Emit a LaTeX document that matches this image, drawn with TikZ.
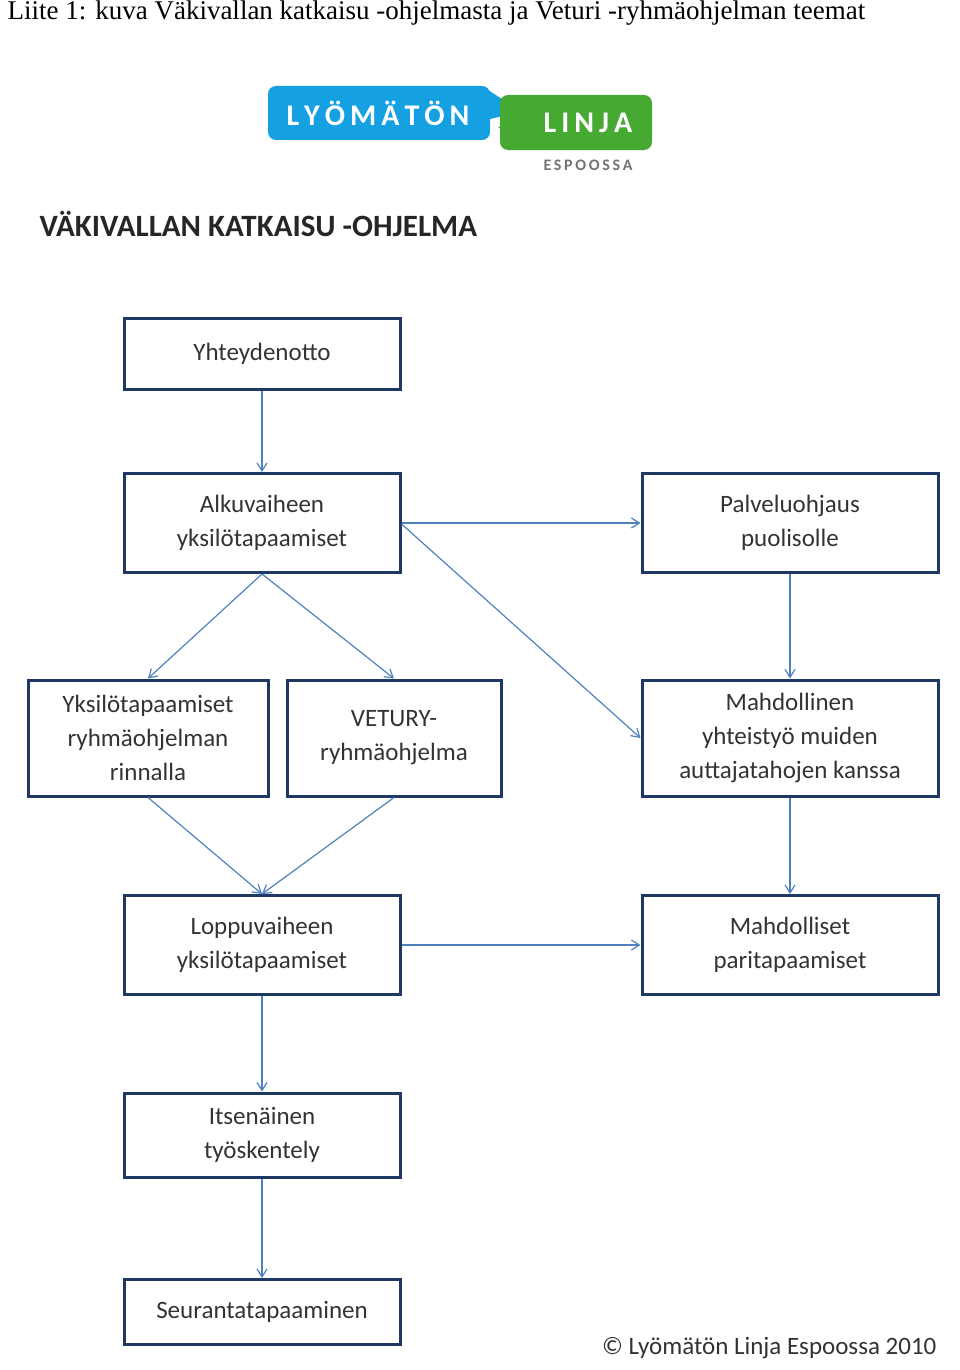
\documentclass[tikz,border=0pt]{standalone}
\usepackage{fontspec}
\setmainfont{Carlito}
\newfontfamily\timesfont{Liberation Serif}
\usetikzlibrary{positioning,arrows.meta}
\definecolor{boxblue}{RGB}{31,56,100}
\definecolor{arrowblue}{RGB}{79,129,189}
\definecolor{logoblue}{RGB}{20,160,225}
\definecolor{logogreen}{RGB}{70,170,50}
\begin{document}
\begin{tikzpicture}[x=1pt,y=-1pt,
     stepbox/.style = {draw=boxblue, line width=3pt, rectangle, align=center,
       font=\fontsize{25}{34}\selectfont, text=black!80, inner sep=0pt},
     arrow/.style = {draw=arrowblue, line width=1.2pt, -{Straight Barb[length=8pt,width=10pt]}}
    ]
    \useasboundingbox (0,0) rectangle (960,1370);
    % caption and heading
    \node[anchor=west, font=\timesfont\fontsize{27}{30}\selectfont] (caption) at (4,13)
      {Liite 1: kuva Väkivallan katkaisu -ohjelmasta ja Veturi -ryhmäohjelman teemat};
    \node[anchor=west, font=\bfseries\fontsize{31}{34}\selectfont, text=black!85] (heading) at (36,224)
      {VÄKIVALLAN KATKAISU -OHJELMA};
    % logo
    \fill[logoblue] (485,88) -- (522,112) -- (485,120) -- cycle;
    \fill[logogreen, rounded corners=8pt] (500,95) rectangle (652,150);
    \fill[logogreen] (520,110) -- (498,128) -- (540,124) -- cycle;
    \fill[logoblue, rounded corners=8pt] (268,86) rectangle (490,140);
    \node[text=white, font=\bfseries\fontsize{30}{30}\selectfont] (lyo) at (378,113) {L\,Y\,Ö\,M\,Ä\,T\,Ö\,N};
    \node[text=white, font=\bfseries\fontsize{30}{30}\selectfont] (linja) at (588,123) {L\,I\,N\,J\,A};
    \node[text=black!55, font=\bfseries\fontsize{16}{16}\selectfont] (espoo) at (588,165) {E\,S\,P\,O\,O\,S\,S\,A};

    \node[stepbox, minimum width=276pt, minimum height=71pt] (yht) at (262,354) {Yhteydenotto};
    \node[stepbox, minimum width=276pt, minimum height=99pt] (alku) at (262,523) {Alkuvaiheen\\yksilötapaamiset};
    \node[stepbox, minimum width=296pt, minimum height=99pt] (palv) at (790,523) {Palveluohjaus\\puolisolle};
    \node[stepbox, minimum width=240pt, minimum height=116pt] (yks) at (148,738) {Yksilötapaamiset\\ryhmäohjelman\\rinnalla};
    \node[stepbox, minimum width=214pt, minimum height=116pt] (vet) at (394,738) {VETURY-\\ryhmäohjelma};
    \node[stepbox, minimum width=296pt, minimum height=116pt] (mahd) at (790,738) {Mahdollinen\\yhteistyö muiden\\auttajatahojen kanssa};
    \node[stepbox, minimum width=276pt, minimum height=99pt] (lopp) at (262,945) {Loppuvaiheen\\yksilötapaamiset};
    \node[stepbox, minimum width=296pt, minimum height=99pt] (pari) at (790,945) {Mahdolliset\\paritapaamiset};
    \node[stepbox, minimum width=276pt, minimum height=84pt] (its) at (262,1135) {Itsenäinen\\työskentely};
    \node[stepbox, minimum width=276pt, minimum height=65pt] (seur) at (262,1312) {Seurantatapaaminen};
    \node[anchor=east, font=\fontsize{25}{26}\selectfont, text=black!80] (copy) at (940,1348) {© Lyömätön Linja Espoossa 2010};

    \draw[arrow] (yht) -- (alku);
    \draw[arrow] (alku) -- (palv);
    \draw[arrow] (alku.south) -- (yks.north);
    \draw[arrow] (alku.south) -- (vet.north);
    \draw[arrow] (alku.north east) ++(0,52) -- (mahd.west);
    \draw[arrow] (palv) -- (mahd);
    \draw[arrow] (yks.south) -- (lopp.north);
    \draw[arrow] (vet.south) -- (lopp.north);
    \draw[arrow] (mahd) -- (pari);
    \draw[arrow] (lopp) -- (pari);
    \draw[arrow] (lopp) -- (its);
    \draw[arrow] (its) -- (seur);
\end{tikzpicture}
\end{document}
